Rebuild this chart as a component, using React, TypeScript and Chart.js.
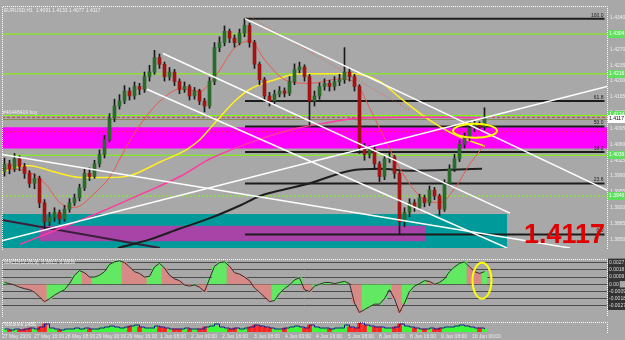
import { useEffect, useRef } from 'react';
import { Chart, registerables } from 'chart.js';
Chart.register(...registerables);
Chart.defaults.font.family = "'Liberation Sans', Arial, sans-serif";

// ---------- price candles (EURUSD) ----------
const firstOpen = 1.4000;
const closes = [
  1.4017, 1.4006, 1.4028, 1.4011, 1.3996, 1.3974, 1.3985, 1.3931, 1.3889, 1.3899,
  1.3910, 1.3895, 1.3917, 1.3931, 1.3942, 1.3964, 1.3996, 1.3989, 1.4017, 1.4038,
  1.4071, 1.4118, 1.4145, 1.4156, 1.4178, 1.4167, 1.4188, 1.4182, 1.4210, 1.4220,
  1.4252, 1.4237, 1.4210, 1.4220, 1.4199, 1.4182, 1.4188, 1.4167, 1.4178, 1.4156,
  1.4145, 1.4199, 1.4274, 1.4285, 1.4310, 1.4295, 1.4285, 1.4306, 1.4323, 1.4285,
  1.4237, 1.4203, 1.4167, 1.4156, 1.4171, 1.4178, 1.4173, 1.4199, 1.4225, 1.4231,
  1.4210, 1.4156, 1.4167, 1.4188, 1.4195, 1.4188, 1.4199, 1.4203, 1.4220, 1.4210,
  1.4188, 1.4053, 1.4038, 1.4049, 1.4017, 1.3989, 1.4028, 1.4032, 1.3996, 1.3889,
  1.3910, 1.3931, 1.3921, 1.3942, 1.3931, 1.3959, 1.3946, 1.3917, 1.3974, 1.4006,
  1.4028, 1.4060, 1.4075, 1.4096, 1.4103, 1.4099, 1.4117,
];
const highs = [
  1.4030, 1.4025, 1.4040, 1.4035, 1.4018, 1.4002, 1.3995, 1.3990, 1.3938, 1.3910,
  1.3920, 1.3915, 1.3925, 1.3940, 1.3950, 1.3972, 1.4005, 1.4008, 1.4025, 1.4048,
  1.4080, 1.4128, 1.4160, 1.4170, 1.4190, 1.4185, 1.4198, 1.4195, 1.4220, 1.4235,
  1.4268, 1.4260, 1.4242, 1.4230, 1.4226, 1.4205, 1.4198, 1.4192, 1.4186, 1.4182,
  1.4162, 1.4208, 1.4285, 1.4298, 1.4322, 1.4315, 1.4302, 1.4315, 1.4338, 1.4328,
  1.4290, 1.4242, 1.4208, 1.4175, 1.4180, 1.4188, 1.4185, 1.4210, 1.4238, 1.4242,
  1.4236, 1.4215, 1.4178, 1.4196, 1.4205, 1.4202, 1.4210, 1.4215, 1.4274, 1.4228,
  1.4215, 1.4192, 1.4062, 1.4058, 1.4055, 1.4022, 1.4035, 1.4042, 1.4036, 1.4000,
  1.3920, 1.3940, 1.3938, 1.3950, 1.3948, 1.3968, 1.3965, 1.3950, 1.3982, 1.4015,
  1.4038, 1.4070, 1.4085, 1.4108, 1.4112, 1.4110, 1.4141,
];
const lows = [
  1.3990, 1.3995, 1.4000, 1.4002, 1.3985, 1.3965, 1.3962, 1.3920, 1.3872, 1.3880,
  1.3890, 1.3885, 1.3890, 1.3910, 1.3925, 1.3935, 1.3958, 1.3980, 1.3985, 1.4010,
  1.4030, 1.4065, 1.4110, 1.4138, 1.4150, 1.4158, 1.4160, 1.4170, 1.4175, 1.4200,
  1.4215, 1.4228, 1.4200, 1.4202, 1.4190, 1.4172, 1.4175, 1.4158, 1.4160, 1.4148,
  1.4132, 1.4140, 1.4192, 1.4265, 1.4278, 1.4285, 1.4275, 1.4280, 1.4298, 1.4275,
  1.4228, 1.4192, 1.4155, 1.4145, 1.4150, 1.4165, 1.4165, 1.4168, 1.4192, 1.4218,
  1.4200, 1.4103, 1.4145, 1.4160, 1.4180, 1.4178, 1.4180, 1.4190, 1.4195, 1.4200,
  1.4178, 1.4040, 1.4025, 1.4030, 1.4005, 1.3978, 1.3982, 1.4020, 1.3985, 1.3861,
  1.3878, 1.3900, 1.3912, 1.3915, 1.3922, 1.3925, 1.3938, 1.3903, 1.3912, 1.3968,
  1.4000, 1.4022, 1.4052, 1.4068, 1.4088, 1.4090, 1.4092,
];
const volumes = [
  3, 2, 3, 2, 3, 4, 3, 5, 8, 4,
  3, 2, 3, 3, 4, 3, 4, 3, 3, 4,
  5, 6, 5, 4, 5, 6, 7, 5, 4, 4,
  6, 5, 4, 3, 3, 3, 4, 3, 3, 3,
  5, 6, 8, 5, 4, 3, 4, 3, 4, 5,
  7, 6, 5, 4, 3, 3, 4, 5, 6, 5,
  4, 7, 5, 4, 4, 3, 4, 4, 7, 5,
  4, 9, 7, 6, 5, 5, 4, 4, 5, 8,
  6, 5, 4, 3, 3, 4, 3, 4, 5, 5,
  6, 7, 6, 5, 4, 4, 3,
];
const oscValues = [
  0.25, 0.1, -0.1, -0.4, -0.6, -0.75, -1.1, -1.75, -2.4, -2.0,
  -1.5, -1.1, -0.75, 0.1, 1.25, 1.9, 1.6, 1.0, 1.0, 1.25,
  1.75, 2.75, 3.1, 3.25, 3.0, 2.4, 1.75, 1.5, 1.0, 1.1,
  2.4, 2.9, 2.25, 1.25, 0.75, 0.5, -0.1, -0.25, -0.1, -0.4,
  -1.0, 0.75, 2.5, 3.0, 3.1, 2.5, 1.6, 1.4, 1.0, 0.5,
  -0.5, -1.1, -1.75, -2.4, -2.25, -1.25, -0.6, -0.1, 0.6, 0.9,
  -0.75, -1.0, -0.25, 0, 0.25, 0.25, 0.1, 0.25, 0.4, 0.1,
  -2.6, -3.9, -3.5, -3.1, -2.75, -2.75, -2.0, -0.75, -2.0, -3.9,
  -2.6, -1.0, -0.25, 0.1, 0.5, 0.4, 0, 0.25, 0.75, 1.75,
  2.4, 2.9, 3.1, 2.4, 1.75, 1.5, 1.75,
];

// ---------- indicators ([bar index, price]) ----------
const maYellow = [
  [-0.5, 1.3996], [1.1, 1.4006], [5.1, 1.4013], [9.1, 1.4002], [15.1, 1.3987], [21.1, 1.3987],
  [25.1, 1.3991], [31.1, 1.4021], [36.5, 1.4049], [39.1, 1.4071], [42.5, 1.4113], [46.1, 1.4156],
  [49.1, 1.4182], [54.1, 1.4203], [59.1, 1.4216], [69.7, 1.4216], [75.1, 1.4199], [79.1, 1.4163],
  [85.1, 1.4113], [90.1, 1.4081], [96.1, 1.4056],
];
const maPink = [
  [3.1, 1.3839], [11.1, 1.3874], [19.1, 1.3910], [27.1, 1.3949], [35.1, 1.3989], [41.1, 1.4028],
  [49.1, 1.4064], [57.1, 1.4092], [65.1, 1.4109], [70.5, 1.4118], [81.1, 1.4120], [89.1, 1.4120], [96.1, 1.4118],
];
const maBlack = [
  [22.7, 1.3831], [29.1, 1.3850], [35.1, 1.3874], [41.1, 1.3897], [47.1, 1.3925], [51.1, 1.3946],
  [56.1, 1.3961], [61.1, 1.3974], [69.1, 1.4002], [75.1, 1.4006], [81.1, 1.4002], [95.5, 1.4006],
];
const maRed = [
  [-0.5, 1.4006], [4.1, 1.4002], [8.1, 1.3974], [11.1, 1.3931], [14.1, 1.3921], [18.1, 1.3953],
  [21.1, 1.3989], [24.1, 1.4049], [27.1, 1.4103], [31.1, 1.4156], [35.1, 1.4182], [39.1, 1.4178],
  [42.1, 1.4210], [46.1, 1.4274], [49.1, 1.4289], [52.1, 1.4246], [56.1, 1.4203], [61.1, 1.4195],
  [67.1, 1.4205], [70.5, 1.4192], [73.1, 1.4139], [76.1, 1.4071], [79.1, 1.4006], [83.1, 1.3946],
  [87.1, 1.3931], [90.1, 1.3964], [93.1, 1.4017], [96.1, 1.4060],
];
const darkLine = [[-0.5, 1.3893], [31.1, 1.3831]];
const redDotted = [[49.1, 1.4342], [81.1, 1.4135]];
const trendLines = [
  [[-0.5, 1.4038], [113.1, 1.3831]],
  [[-0.5, 1.3847], [120.5, 1.4188]],
  [[48.1, 1.4338], [120.5, 1.3959]],
  [[31.7, 1.4261], [101.1, 1.3908]],
  [[28.5, 1.4182], [100.5, 1.3831]],
];

// ---------- levels / zones ----------
const levelPrices = [1.4304, 1.4216, 1.4124, 1.4036, 1.3946];
const levelDashed = [false, false, false, false, true];
const orderPrice = 1.4120;
const orderLabel = '#40448419 buy';
const zonePrice = 1.4088;
const fibHigh = 1.4338;
const fibLow = 1.3861;
const fibRatios = [100.0, 61.8, 50.0, 38.2, 23.6, 0.0];
const fibFrom = 48.1;
const fibTo = 120;
const bandFrom = [-0.5, -0.5, 7.1];
const bandTo = [120.5, 100.5, 84.1];
const bandLo = [1.4051, 1.3760, 1.3846];
const bandHi = [1.4098, 1.3906, 1.3880];
const bandColors = ['#ff00ff', '#009a9a', '#a844a8'];
const circleMain = [94.1, 1.4090];
const circleOsc = [95.5, 0.5];

// ---------- axes ----------
const priceTicks = [1.4340, 1.4305, 1.4270, 1.4235, 1.4200, 1.4165, 1.4130, 1.4095, 1.4060, 1.4025, 1.3990, 1.3955, 1.3920, 1.3885, 1.3850];
const oscTicks = [3, 2, 1, 0, -1, -2, -3];
const oscTickLabels = ['0.0027', '0.0018', '0.0009', '0.00', '-0.0009', '-0.0018', '-0.0027'];
const xLabels = ['27 May 2009', '27 May 16:00', '28 May 08:00', '29 May 00:00', '29 May 16:00', '1 Jun 08:00',
  '2 Jun 00:00', '2 Jun 16:00', '3 Jun 08:00', '4 Jun 00:00', '4 Jun 16:00', '5 Jun 08:00', '8 Jun 00:00',
  '8 Jun 16:00', '9 Jun 08:00', '10 Jun 00:00'];
const xLabelAt = [-0.5, 5.9, 12.1, 18.3, 24.5, 31.1, 37.3, 43.5, 49.9, 56.1, 62.3, 68.7, 74.9, 81.1, 87.3, 93.5];
const header = 'EURUSD,H1  1.4091 1.4133 1.4077 1.4117';
const oscHeader = 'MACD(12,26,9)  0.0013  0.0009';
const volHeader = 'Volumes 1486';

const X_MIN = -0.5;
const X_MAX = 120.5;
const LIGHT = '#eeeeee';

const pts = (a: number[][]) => a.map(([x, y]) => ({ x, y }));
const lineDs = (data: number[][], color: string, width: number, order: number, extra: any = {}) => ({
  type: 'line', data: pts(data), borderColor: color, borderWidth: width, pointRadius: 0,
  fill: false, order, ...extra,
});

function frame(ctx: CanvasRenderingContext2D, a: any) {
  ctx.save();
  ctx.strokeStyle = '#ffffff';
  ctx.lineWidth = 1;
  ctx.setLineDash([1, 1]);
  ctx.beginPath();
  ctx.moveTo(a.left + 0.5, a.bottom + 2);
  ctx.lineTo(a.left + 0.5, a.top + 0.5);
  ctx.lineTo(a.right + 0.5, a.top + 0.5);
  ctx.lineTo(a.right + 0.5, a.bottom + 2);
  ctx.stroke();
  ctx.restore();
}

export default function App() {
  const mainRef = useRef<HTMLCanvasElement>(null);
  const oscRef = useRef<HTMLCanvasElement>(null);
  const volRef = useRef<HTMLCanvasElement>(null);

  useEffect(() => {
    const opens = closes.map((c, i) => (i === 0 ? firstOpen : closes[i - 1]));
    const bull = closes.map((c, i) => c >= opens[i]);
    const lastClose = closes[closes.length - 1];

    const datasets: any[] = [];
    levelPrices.forEach((p, k) => datasets.push(lineDs([[X_MIN, p], [X_MAX, p]], '#7cfc00', 1, 20,
      levelDashed[k] ? { borderDash: [2, 2] } : {})));
    datasets.push(lineDs([[X_MIN, zonePrice], [X_MAX, zonePrice]], '#ff2a2a', 1, 20, { borderDash: [2, 2] }));
    datasets.push(lineDs([[X_MIN, orderPrice], [X_MAX, orderPrice]], '#c04040', 1, 20, { borderDash: [3, 2] }));
    fibRatios.forEach((r) => {
      const p = fibLow + ((fibHigh - fibLow) * r) / 100;
      datasets.push(lineDs([[fibFrom, p], [fibTo, p]], '#1c1c1c', 2, 19));
    });
    datasets.push(lineDs(maBlack, '#1e1e1e', 2, 18, { cubicInterpolationMode: 'monotone' }));
    datasets.push(lineDs(darkLine, '#3a1f3a', 2, 18));
    datasets.push(lineDs(maPink, '#ff3aa0', 1.5, 17, { cubicInterpolationMode: 'monotone' }));
    datasets.push(lineDs(maYellow, '#ffee22', 1.5, 17, { cubicInterpolationMode: 'monotone' }));
    datasets.push(lineDs(redDotted, '#e06050', 1, 16, { borderDash: [1, 2] }));
    datasets.push(lineDs(maRed, '#e85a4a', 1, 16, { cubicInterpolationMode: 'monotone' }));
    datasets.push({
      type: 'bar', data: lows.map((l, i) => ({ x: i, y: [l, highs[i]] })),
      backgroundColor: '#1a1a1a', barThickness: 1, grouped: false, order: 15,
    });
    datasets.push({
      type: 'bar',
      data: closes.map((c, i) => ({ x: i, y: [Math.min(c, opens[i]), Math.max(c, opens[i])] })),
      backgroundColor: bull.map((b) => (b ? '#2a6a2a' : '#a01414')),
      barThickness: 3, minBarLength: 1, grouped: false, order: 14,
    });
    trendLines.forEach((t) => datasets.push(lineDs(t, '#ffffff', 1.5, 10)));

    const mainPlugin = {
      id: 'mainDeco',
      beforeDatasetsDraw(chart: any) {
        const { ctx, chartArea: a, scales: { x, y } } = chart;
        ctx.save();
        ctx.beginPath();
        ctx.rect(a.left, a.top, a.right - a.left, a.bottom - a.top);
        ctx.clip();
        bandColors.forEach((col, k) => {
          const x0 = x.getPixelForValue(bandFrom[k]);
          const x1 = x.getPixelForValue(bandTo[k]);
          const y0 = y.getPixelForValue(bandHi[k]);
          const y1 = y.getPixelForValue(bandLo[k]);
          ctx.fillStyle = col;
          ctx.fillRect(x0, y0, x1 - x0, y1 - y0);
        });
        // bid line
        const yb = Math.round(y.getPixelForValue(lastClose)) + 0.5;
        ctx.strokeStyle = '#8a8a5a';
        ctx.lineWidth = 1;
        ctx.beginPath();
        ctx.moveTo(a.left, yb);
        ctx.lineTo(a.right, yb);
        ctx.stroke();
        ctx.restore();
      },
      afterDatasetsDraw(chart: any) {
        const { ctx, chartArea: a, scales: { x, y } } = chart;
        ctx.save();
        // fib labels
        ctx.font = '5px "Liberation Sans", Arial';
        ctx.fillStyle = '#1c1c1c';
        ctx.textAlign = 'right';
        ctx.textBaseline = 'bottom';
        fibRatios.forEach((r) => {
          const p = fibLow + ((fibHigh - fibLow) * r) / 100;
          ctx.fillText(r.toFixed(1), x.getPixelForValue(fibTo) - 1, y.getPixelForValue(p) - 1);
        });
        // yellow ellipse
        ctx.strokeStyle = '#ffff00';
        ctx.lineWidth = 2;
        ctx.beginPath();
        ctx.ellipse(x.getPixelForValue(circleMain[0]), y.getPixelForValue(circleMain[1]), 22, 7, 0, 0, Math.PI * 2);
        ctx.stroke();
        // big price
        ctx.font = 'bold 27px "Liberation Sans", Arial';
        ctx.fillStyle = '#e00000';
        ctx.textAlign = 'right';
        ctx.textBaseline = 'alphabetic';
        ctx.fillText(lastClose.toFixed(4), a.right - 2, a.bottom - 5);
        // header + order label
        ctx.font = '5px "Liberation Sans", Arial';
        ctx.fillStyle = LIGHT;
        ctx.textAlign = 'left';
        ctx.textBaseline = 'top';
        ctx.fillText(header, a.left + 2, a.top + 2);
        ctx.textBaseline = 'bottom';
        ctx.fillText(orderLabel, a.left + 1, y.getPixelForValue(orderPrice) - 2);
        ctx.restore();
      },
      afterDraw(chart: any) {
        const { ctx, chartArea: a, scales: { y } } = chart;
        frame(ctx, a);
        ctx.save();
        ctx.font = '5px "Liberation Sans", Arial';
        ctx.textAlign = 'left';
        ctx.textBaseline = 'middle';
        levelPrices.forEach((p) => {
          const yy = Math.round(y.getPixelForValue(p));
          ctx.fillStyle = '#5ee05e';
          ctx.fillRect(a.right + 1, yy - 4, 18, 8);
          ctx.fillStyle = '#ffffff';
          ctx.fillText(p.toFixed(4), a.right + 2, yy);
        });
        const yb = Math.round(y.getPixelForValue(lastClose));
        ctx.fillStyle = '#ffffff';
        ctx.fillRect(a.right + 1, yb - 4, 18, 8);
        ctx.fillStyle = '#000000';
        ctx.fillText(lastClose.toFixed(4), a.right + 2, yb);
        ctx.restore();
      },
    };

    const main = new Chart(mainRef.current as HTMLCanvasElement, {
      type: 'bar',
      data: { datasets },
      options: {
        responsive: false, animation: false, events: [],
        layout: { padding: { left: 2, top: 2, right: 0, bottom: 2 } },
        plugins: { legend: { display: false }, tooltip: { enabled: false } },
        scales: {
          x: { type: 'linear', min: X_MIN, max: X_MAX, display: false, offset: false },
          y: {
            type: 'linear', position: 'right', min: 1.3831, max: 1.4366,
            grid: { display: false, drawTicks: false }, border: { display: false },
            ticks: { color: LIGHT, font: { size: 5 }, padding: 3, callback: (v: any) => Number(v).toFixed(4) },
            afterBuildTicks: (s: any) => { s.ticks = priceTicks.map((v) => ({ value: v })); },
            afterFit: (s: any) => { s.width = 18; },
          },
        },
      },
      plugins: [mainPlugin],
    } as any);

    // ---------- oscillator ----------
    const oscPlugin = {
      id: 'oscDeco',
      afterDatasetsDraw(chart: any) {
        const { ctx, chartArea: a, scales: { x, y } } = chart;
        ctx.save();
        ctx.strokeStyle = '#ffff00';
        ctx.lineWidth = 2;
        ctx.beginPath();
        ctx.ellipse(x.getPixelForValue(circleOsc[0]), y.getPixelForValue(circleOsc[1]), 9.5, 18, 0, 0, Math.PI * 2);
        ctx.stroke();
        ctx.font = '5px "Liberation Sans", Arial';
        ctx.fillStyle = LIGHT;
        ctx.textBaseline = 'top';
        ctx.fillText(oscHeader, a.left + 2, a.top + 1);
        ctx.restore();
      },
      afterDraw(chart: any) { frame(chart.ctx, chart.chartArea); },
    };
    const osc = new Chart(oscRef.current as HTMLCanvasElement, {
      type: 'bar',
      data: {
        datasets: [
          {
            type: 'bar', data: oscValues.map((v, i) => ({ x: i, y: v })),
            backgroundColor: oscValues.map((v, i) => (i > 0 && v < oscValues[i - 1] ? '#d88a86' : '#62e862')),
            barThickness: 5, grouped: false, order: 2,
          },
          {
            type: 'line', data: oscValues.map((v, i) => ({ x: i, y: v })), borderColor: '#2e2e2e',
            borderWidth: 1, pointRadius: 0, fill: false, order: 1,
          },
        ],
      },
      options: {
        responsive: false, animation: false, events: [],
        layout: { padding: { left: 2, top: 2, right: 0, bottom: 2 } },
        plugins: { legend: { display: false }, tooltip: { enabled: false } },
        scales: {
          x: { type: 'linear', min: X_MIN, max: X_MAX, display: false, offset: false },
          y: {
            type: 'linear', position: 'right', min: -4.25, max: 3.5,
            grid: { color: '#4c4c4c', lineWidth: 1, drawTicks: false }, border: { display: false },
            ticks: {
              color: '#dddddd', font: { size: 5 }, padding: 2,
              showLabelBackdrop: true, backdropColor: '#333333', backdropPadding: 1,
              callback: (_v: any, i: number) => oscTickLabels[i],
            },
            afterBuildTicks: (s: any) => { s.ticks = oscTicks.map((v) => ({ value: v })); },
            afterFit: (s: any) => { s.width = 18; },
          },
        },
      },
      plugins: [oscPlugin],
    } as any);

    // ---------- volumes ----------
    const volPlugin = {
      id: 'volDeco',
      afterDatasetsDraw(chart: any) {
        const { ctx, chartArea: a } = chart;
        ctx.save();
        ctx.font = '5px "Liberation Sans", Arial';
        ctx.fillStyle = LIGHT;
        ctx.textBaseline = 'top';
        ctx.fillText(volHeader, a.left + 2, a.top);
        ctx.restore();
      },
      afterDraw(chart: any) { frame(chart.ctx, chart.chartArea); },
    };
    const vol = new Chart(volRef.current as HTMLCanvasElement, {
      type: 'bar',
      data: {
        datasets: [
          {
            type: 'bar', data: volumes.map((v, i) => ({ x: i, y: v })),
            backgroundColor: bull.map((b) => (b ? '#33ff33' : '#ff2222')),
            barThickness: 4, grouped: false, order: 2,
          },
          {
            type: 'line', data: volumes.map((v, i) => ({ x: i, y: v })), borderColor: '#1c1c90',
            borderWidth: 1, pointRadius: 0, fill: false, stepped: true, order: 1,
          },
        ],
      },
      options: {
        responsive: false, animation: false, events: [],
        layout: { padding: { left: 2, top: 2, right: 0, bottom: 0 } },
        plugins: { legend: { display: false }, tooltip: { enabled: false } },
        scales: {
          x: {
            type: 'linear', min: X_MIN, max: X_MAX, offset: false,
            grid: { display: false, drawTicks: false }, border: { display: false },
            ticks: {
              color: LIGHT, font: { size: 5 }, padding: 2, align: 'start', autoSkip: false, maxRotation: 0,
              callback: (_v: any, i: number) => xLabels[i],
            },
            afterBuildTicks: (s: any) => { s.ticks = xLabelAt.map((v) => ({ value: v })); },
            afterFit: (s: any) => { s.height = 8; },
          },
          y: {
            type: 'linear', position: 'right', min: 0, max: 10,
            grid: { display: false, drawTicks: false }, border: { display: false },
            ticks: { display: false },
            afterFit: (s: any) => { s.width = 18; },
          },
        },
      },
      plugins: [volPlugin],
    } as any);

    return () => { main.destroy(); osc.destroy(); vol.destroy(); };
  }, []);

  return (
    <div style={{ position: 'fixed', left: 0, top: 0, width: 625, height: 340, background: '#a8a8a8', overflow: 'hidden' }}>
      <canvas ref={mainRef} width={625} height={254} style={{ position: 'absolute', left: 0, top: 0, width: 625, height: 254 }} />
      <canvas ref={oscRef} width={625} height={66} style={{ position: 'absolute', left: 0, top: 254, width: 625, height: 66 }} />
      <canvas ref={volRef} width={625} height={20} style={{ position: 'absolute', left: 0, top: 320, width: 625, height: 20 }} />
    </div>
  );
}
